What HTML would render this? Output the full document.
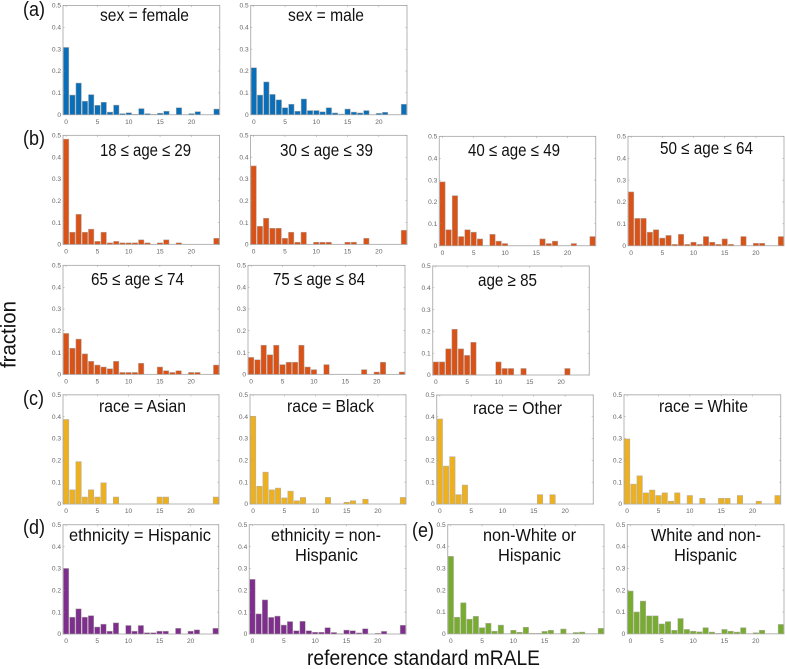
<!DOCTYPE html>
<html lang="en">
<head>
<meta charset="utf-8">
<title>Fraction by reference standard mRALE across subgroups</title>
<style>
html,body{margin:0;padding:0;background:#fff;width:787px;height:669px;overflow:hidden}
svg{display:block;font-family:"Liberation Sans",sans-serif;filter:blur(0.3px)}
.title{font-size:17.5px;fill:#111;text-anchor:start}
.letter{font-size:20px;fill:#111}
.axis-title{font-size:21px;fill:#111}
.tick{font-size:6.6px;fill:#666}
</style>
</head>
<body>
<svg id="figure" xmlns="http://www.w3.org/2000/svg" width="787" height="669" viewBox="0 0 787 669">
  <rect x="0" y="0" width="787" height="669" fill="#fff"/>
  <g id="panels"></g>

  <text class="letter" x="23" y="16" textLength="22" lengthAdjust="spacingAndGlyphs">(a)</text>
  <text class="letter" x="23" y="145" textLength="22" lengthAdjust="spacingAndGlyphs">(b)</text>
  <text class="letter" x="23" y="405" textLength="21" lengthAdjust="spacingAndGlyphs">(c)</text>
  <text class="letter" x="23" y="534" textLength="22" lengthAdjust="spacingAndGlyphs">(d)</text>
  <text class="letter" x="412" y="537" textLength="22" lengthAdjust="spacingAndGlyphs">(e)</text>

  <text class="title" x="100" y="21" textLength="89" lengthAdjust="spacingAndGlyphs">sex = female</text>
  <text class="title" x="288" y="21" textLength="76" lengthAdjust="spacingAndGlyphs">sex = male</text>
  <text class="title" x="100" y="156" textLength="91" lengthAdjust="spacingAndGlyphs">18 ≤ age ≤ 29</text>
  <text class="title" x="280" y="156" textLength="93" lengthAdjust="spacingAndGlyphs">30 ≤ age ≤ 39</text>
  <text class="title" x="468" y="156" textLength="92" lengthAdjust="spacingAndGlyphs">40 ≤ age ≤ 49</text>
  <text class="title" x="660" y="154" textLength="93" lengthAdjust="spacingAndGlyphs">50 ≤ age ≤ 64</text>
  <text class="title" x="91" y="285" textLength="93" lengthAdjust="spacingAndGlyphs">65 ≤ age ≤ 74</text>
  <text class="title" x="273" y="285" textLength="92" lengthAdjust="spacingAndGlyphs">75 ≤ age ≤ 84</text>
  <text class="title" x="478" y="286" textLength="59" lengthAdjust="spacingAndGlyphs">age ≥ 85</text>
  <text class="title" x="99" y="412" textLength="87" lengthAdjust="spacingAndGlyphs">race = Asian</text>
  <text class="title" x="287" y="412" textLength="87" lengthAdjust="spacingAndGlyphs">race = Black</text>
  <text class="title" x="473" y="414" textLength="89" lengthAdjust="spacingAndGlyphs">race = Other</text>
  <text class="title" x="659" y="412" textLength="89" lengthAdjust="spacingAndGlyphs">race = White</text>
  <text class="title" x="69" y="541" textLength="142" lengthAdjust="spacingAndGlyphs">ethnicity = Hispanic</text>
  <text class="title" x="271" y="541" textLength="110" lengthAdjust="spacingAndGlyphs">ethnicity = non-</text>
  <text class="title" x="295" y="561" textLength="63" lengthAdjust="spacingAndGlyphs">Hispanic</text>
  <text class="title" x="483" y="541" textLength="93" lengthAdjust="spacingAndGlyphs">non-White or</text>
  <text class="title" x="498" y="561" textLength="63" lengthAdjust="spacingAndGlyphs">Hispanic</text>
  <text class="title" x="651" y="541" textLength="110" lengthAdjust="spacingAndGlyphs">White and non-</text>
  <text class="title" x="674" y="561" textLength="63" lengthAdjust="spacingAndGlyphs">Hispanic</text>

  <text class="axis-title" transform="translate(15.7 368) rotate(-90)" textLength="67" lengthAdjust="spacingAndGlyphs">fraction</text>
  <text class="axis-title" x="307" y="665" textLength="233" lengthAdjust="spacingAndGlyphs">reference standard mRALE</text>
</svg>

<script>
// Tick labels (shared by every panel)
const xTickValues = [0, 5, 10, 15, 20];
const yTickValues = [0, 0.1, 0.2, 0.3, 0.4, 0.5];
const yTickLabels = ['0', '0.1', '0.2', '0.3', '0.4', '0.5'];

// Categories: mRALE score bins 0..24
const mraleBins = [0,1,2,3,4,5,6,7,8,9,10,11,12,13,14,15,16,17,18,19,20,21,22,23,24];

// Series values: fraction per mRALE bin
const sexFemale  = [.308,.090,.145,.062,.092,.043,.057,.012,.044,.005,.009,.002,.028,.005,.002,.007,.016,0,.032,0,.005,.014,0,0,.026];
const sexMale    = [.215,.090,.150,.093,.068,.032,.048,.016,.072,.019,.019,.013,.032,.008,.003,.026,.012,.008,.019,0,.006,.011,0,0,.048];
const age18to29  = [.483,.056,.138,.056,.070,.014,.056,.007,.014,.007,.007,.007,.021,.007,0,.007,.021,0,.007,0,0,0,0,0,.028];
const age30to39  = [.360,.083,.120,.074,.074,.028,.056,.010,.056,0,.010,.010,.010,0,0,.010,.010,0,.028,0,0,0,0,0,.065];
const age40to49  = [.292,.073,.229,.042,.073,.062,.031,0,.052,.021,.010,0,0,0,0,0,.031,.010,.021,0,0,.010,0,0,.042];
const age50to64  = [.246,.125,.125,.062,.073,.035,.047,.006,.052,.006,.016,.006,.042,.016,.006,.031,.006,0,.042,0,.011,.011,0,0,.042];
const age65to74  = [.188,.120,.162,.094,.060,.043,.034,.026,.060,.009,.009,.009,.051,0,0,.034,.017,.009,.017,0,.009,.009,0,0,.043];
const age75to84  = [.078,.067,.134,.090,.134,.045,.056,.056,.134,.034,.022,0,.045,0,0,0,0,0,.022,0,.011,.056,0,0,.011];
const age85plus  = [.060,.060,.120,.210,.120,.090,.150,0,0,0,.060,.030,.030,0,.030,0,0,0,0,0,0,.030,0,0,0];
const raceAsian  = [.387,.065,.194,.032,.065,.032,.097,0,.032,0,0,0,0,0,0,.032,.032,0,0,0,0,0,0,0,.032];
const raceBlack  = [.402,.081,.146,.065,.073,.028,.059,.015,.030,0,0,0,.030,0,0,.008,.015,0,.022,0,0,0,0,0,.030];
const raceOther  = [.390,.174,.217,.043,.087,0,0,0,0,0,0,0,0,0,0,0,.043,0,.043,0,0,0,0,0,0];
const raceWhite  = [.298,.091,.129,.051,.064,.039,.051,.013,.051,0,.039,0,.026,0,0,.026,.026,0,.039,0,0,.013,0,0,.039];
const ethHispanic    = [.300,.077,.115,.077,.084,.032,.045,.013,.051,0,.039,.013,.039,.006,.006,.013,.013,0,.026,0,.013,.019,0,0,.026];
const ethNonHispanic = [.250,.092,.156,.076,.082,.041,.057,.015,.058,.015,.008,.008,.029,.007,.002,.018,.015,.005,.024,0,.003,.012,0,0,.040];
const nonWhiteOrHisp = [.355,.076,.142,.067,.080,.028,.048,.012,.040,0,.016,.007,.030,.002,.002,.011,.016,0,.022,0,.006,.008,0,0,.025];
const whiteNonHisp   = [.196,.100,.150,.082,.082,.045,.056,.016,.070,.020,.012,.009,.028,.008,.002,.020,.012,.008,.028,0,.005,.016,0,0,.043];

// Axis domains
const xDomain = [-0.5, 24.5];
const yDomain = [0, 0.5];
const barFraction = 0.87;

const palette = { blue:'#0a6fb8', orange:'#d95319', yellow:'#edb120', purple:'#7e2f8e', green:'#77ac30' };

// Panel layout: name, series, colour, and frame (left, right, top, bottom)
const panelLayout = [
  ['sex-female',  sexFemale,  palette.blue,   63,    219.7, 5.5,   114.7],
  ['sex-male',    sexMale,    palette.blue,   250.7, 407,   5.5,   114.7],
  ['age-18-29',   age18to29,  palette.orange, 63,    219.5, 135.4, 244.4],
  ['age-30-39',   age30to39,  palette.orange, 250.5, 407,   135.4, 244.4],
  ['age-40-49',   age40to49,  palette.orange, 439.3, 595.7, 136.4, 245.7],
  ['age-50-64',   age50to64,  palette.orange, 628,   784,   136.4, 245.7],
  ['age-65-74',   age65to74,  palette.orange, 63,    219.3, 265.4, 374.4],
  ['age-75-84',   age75to84,  palette.orange, 248,   405,   265.4, 374.4],
  ['age-85-plus', age85plus,  palette.orange, 432.7, 589.3, 266,   375],
  ['race-asian',  raceAsian,  palette.yellow, 63,    219,   394.8, 504],
  ['race-black',  raceBlack,  palette.yellow, 250,   406,   394.8, 504],
  ['race-other',  raceOther,  palette.yellow, 436.7, 593.3, 395,   504],
  ['race-white',  raceWhite,  palette.yellow, 624,   780.7, 394.8, 504],
  ['ethnicity-hispanic',     ethHispanic,    palette.purple, 63,    218.7, 524.7, 634],
  ['ethnicity-non-hispanic', ethNonHispanic, palette.purple, 249.3, 406,   524.7, 634],
  ['non-white-or-hispanic',  nonWhiteOrHisp, palette.green,  447.7, 604,   524.7, 633.8],
  ['white-and-non-hispanic', whiteNonHisp,   palette.green,  627.3, 784,   524.7, 633.8]
];

const SVG_NS = 'http://www.w3.org/2000/svg';
const panelsRoot = document.getElementById('panels');

function makeSvg(tag, attrs, parent) {
  const el = document.createElementNS(SVG_NS, tag);
  for (const k in attrs) el.setAttribute(k, attrs[k]);
  parent.appendChild(el);
  return el;
}

function linearScale(domain, range) {
  return v => range[0] + (v - domain[0]) / (domain[1] - domain[0]) * (range[1] - range[0]);
}

function drawPanel(name, series, color, left, right, top, bottom) {
  const xScale = linearScale(xDomain, [left, right]);
  const yScale = linearScale(yDomain, [bottom, top]);
  const unit = Math.abs(xScale(1) - xScale(0));
  const barW = unit * barFraction;

  const g = makeSvg('g', {}, panelsRoot);
  
  

  const frame = makeSvg('rect', { x:left, y:top, width:right-left, height:bottom-top, fill:'#fff', stroke:'#b4b4b4', 'stroke-width':1 }, g);
  
  

  mraleBins.forEach((bin, i) => {
    const v = series[i];
    if (!v) return;
    const x0 = Math.max(xScale(bin) - barW / 2, left);
    const x1 = xScale(bin) + barW / 2;
    const bar = makeSvg('rect', {
      x:x0, y:yScale(v), width:x1-x0, height:bottom-yScale(v),
      fill:color, stroke:'#b0aca8', 'stroke-width':0.5
    }, g);
    
    
  });

  xTickValues.forEach(t => {
    const px = xScale(t);
    makeSvg('line', { x1:px, x2:px, y1:top, y2:top+1.6, stroke:'#9a9a9a', 'stroke-width':0.5 }, g);
    const label = makeSvg('text', { x:px, y:bottom+9.2, 'text-anchor':'middle', class:'tick' }, g);
    label.textContent = String(t);
    
    
  });

  yTickValues.forEach((t, i) => {
    const py = yScale(t);
    makeSvg('line', { x1:left, x2:left+1.6, y1:py, y2:py, stroke:'#9a9a9a', 'stroke-width':0.5 }, g);
    makeSvg('line', { x1:right-1.6, x2:right, y1:py, y2:py, stroke:'#9a9a9a', 'stroke-width':0.5 }, g);
    const label = makeSvg('text', { x:left-2, y:py+2.2, 'text-anchor':'end', class:'tick' }, g);
    label.textContent = yTickLabels[i];
    
    
  });
}

panelLayout.forEach(p => drawPanel(p[0], p[1], p[2], p[3], p[4], p[5], p[6]));
</script>
</body>
</html>
